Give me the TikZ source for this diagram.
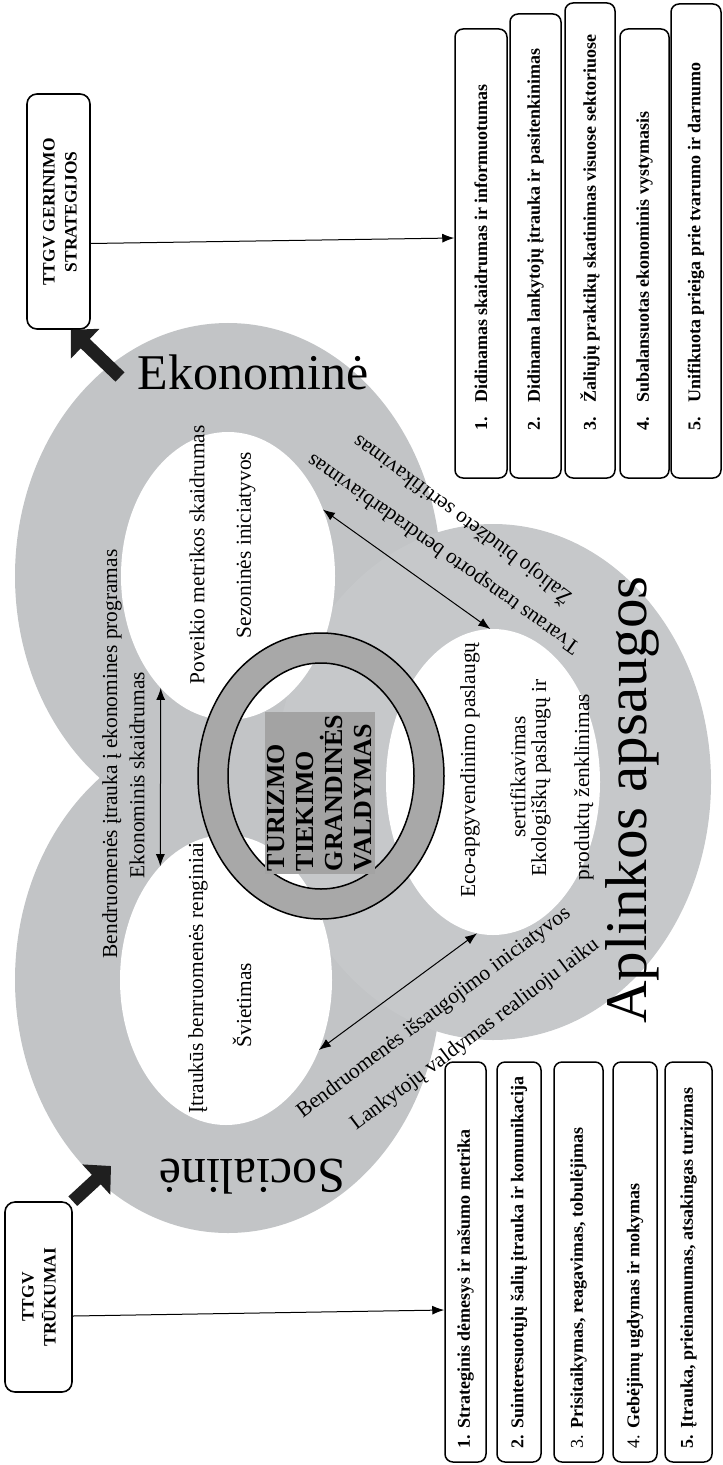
\documentclass[tikz,border=0pt]{standalone}
\usepackage{fontspec}
\setmainfont{Liberation Serif}
\usetikzlibrary{shapes.geometric, arrows.meta}

\definecolor{ringgray}{RGB}{194,196,198}
\definecolor{envgray}{RGB}{198,200,202}
\definecolor{hubgray}{RGB}{168,168,168}
\definecolor{hubfill}{RGB}{163,163,163}

\tikzset{
	outerring/.style={ellipse, inner sep=0pt, outer sep=0pt, fill=ringgray},
	innerring/.style={ellipse, inner sep=0pt, outer sep=0pt, fill=white},
	smalltxt/.style={font=\fontsize{10.7}{13}\selectfont, inner sep=0pt},
	ringtxt/.style={smalltxt, rotate=90},
	bigtxt/.style={font=\fontsize{25}{30}\selectfont, inner sep=0pt},
	titlebox/.style={draw, line width=0.8pt, rounded corners=5pt, inner sep=0pt},
	titletxt/.style={rotate=90, inner sep=0pt, font=\bfseries\fontsize{8.7}{11}\selectfont},
	listbox/.style={draw, line width=0.75pt, rounded corners=4pt, inner sep=0pt},
	listtxt/.style={font=\bfseries\fontsize{9}{11}\selectfont, rotate=90, anchor=west, inner sep=0pt},
	thinarrow/.style={-{Latex[length=6pt,width=4.5pt]}, line width=0.5pt},
	twoway/.style={{Latex[length=6pt,width=4.5pt]}-{Latex[length=6pt,width=4.5pt]}, line width=0.5pt},
	fatarrow/.style={-{Triangle[length=10pt,width=20pt]}, line width=6.5pt, black!88}
}

\begin{document}
\begin{tikzpicture}[x=0.5pt, y=-0.5pt]
	\useasboundingbox (0,0) rectangle (722,1465);
	
	% three rings
	\node[outerring, minimum width=213pt, minimum height=253pt] (econOut) at (228,576) {};
	\node[outerring, minimum width=213pt, minimum height=253pt] (socOut) at (228,980) {};
	\node[outerring, fill=envgray, minimum width=218pt, minimum height=258pt] (envOut) at (493,782) {};
	
	\node[innerring, minimum width=107pt, minimum height=144pt] (econIn) at (228,576) {};
	\node[innerring, minimum width=106pt, minimum height=145pt] (socIn) at (226,980) {};
	\node[innerring, minimum width=107pt, minimum height=153pt] (envIn) at (493,782) {};
	
	% hub
	\filldraw[fill=hubgray, line width=0.75pt, even odd rule] (321,776) ellipse [x radius=123, y radius=143] (321,776) ellipse [x radius=93, y radius=113];
	\node[fill=hubfill, rotate=90, align=left, inner sep=1.5pt, font=\bfseries\fontsize{13}{14.5}\selectfont] (hub) at (320,793) {TURIZMO\\TIEKIMO\\GRANDINĖS\\VALDYMAS};
	
	% ring labels
	\node[bigtxt] (ekoLabel) at (253,372) {Ekonominė};
	\node[bigtxt, rotate=180] (socLabel) at (252,1177) {Socialinė};
	\node[bigtxt, rotate=90, font=\fontsize{29.5}{34}\selectfont] (aplLabel) at (632,800) {Aplinkos apsaugos};
	
	\node[ringtxt] (ekoProg) at (112,754) {Bendruomenės įtrauka į ekonomines programas};
	\node[ringtxt] (ekoSkaid) at (137,775) {Ekonominis skaidrumas};
	\node[ringtxt] (poveik) at (197,555) {Poveikio metrikos skaidrumas};
	\node[ringtxt] (sezon) at (246,545) {Sezoninės iniciatyvos};
	\node[ringtxt] (renginiai) at (198,978) {Įtraukūs benruomenės renginiai};
	\node[ringtxt] (svietimas) at (242,1005) {Švietimas};
	\node[ringtxt] (ecoApg) at (470,770) {Eco-apgyvendinimo paslaugų};
	\node[ringtxt] (sertif) at (518,777) {sertifikavimas};
	\node[ringtxt] (ekolog) at (541,778) {Ekologiškų paslaugų ir};
	\node[ringtxt] (zenkl) at (584,787) {produktų ženklinimas};
	
	\node[smalltxt, rotate=144.5] (tvaraus) at (444,553) {Tvaraus transporto bendradarbiavimas};
	\node[smalltxt, rotate=143.2] (zaliojo) at (462,520) {Žaliojo biudžeto sertifikavimas};
	\node[smalltxt, rotate=37] (issaug) at (434,1013) {Bendruomenės išsaugojimo iniciatyvos};
	\node[smalltxt, rotate=37] (lankyt) at (475,1035) {Lankytojų valdymas realiuoju laiku};
	
	\draw[twoway] (econIn.239) -- (socIn.120);
	\draw[twoway] (econIn.35) -- (envIn.91);
	\draw[twoway] (socIn.323) -- (envIn.264);
	
	% title boxes
	\node[titlebox, minimum width=31.5pt, minimum height=117.5pt] (gerin) at (58.5,211.5) {};
	\node[titletxt] (gerinA) at (49,212) {TTGV GERINIMO};
	\node[titletxt] (gerinB) at (71,212) {STRATEGIJOS};
	\node[titlebox, minimum width=33.5pt, minimum height=95pt] (trukum) at (38.5,1297) {};
	\node[titletxt] (trukumA) at (28,1297) {TTGV};
	\node[titletxt] (trukumB) at (49,1297) {TRŪKUMAI};
	
	\coordinate (econTail) at (120,377);
	\coordinate (socTip) at (111,1166);
	\draw[fatarrow] (econTail) -- ([xshift=-10pt]gerin.south east);
	\draw[fatarrow] (trukum.north east) -- (socTip);
	
	% strategies
	\node[listbox, minimum width=26pt, minimum height=224.5pt] (good1) at (481,253.5) {};
	\node[listbox, minimum width=25.5pt, minimum height=232pt] (good2) at (535.5,246) {};
	\node[listbox, minimum width=25pt, minimum height=237.5pt] (good3) at (590,240.5) {};
	\node[listbox, minimum width=24.5pt, minimum height=224.5pt] (good4) at (644.5,253.5) {};
	\node[listbox, minimum width=25pt, minimum height=237pt] (good5) at (696,241) {};
	
	\node[listtxt] (good1t) at ([yshift=24pt]good1.south) {1.\hspace{7pt}Didinamas skaidrumas ir informuotumas};
	\node[listtxt] (good2t) at ([yshift=24pt]good2.south) {2.\hspace{7pt}Didinama lankytojų įtrauka ir pasitenkinimas};
	\node[listtxt] (good3t) at ([yshift=24pt]good3.south) {3.\hspace{7pt}Žaliųjų praktikų skatinimas visuose sektoriuose};
	\node[listtxt] (good4t) at ([yshift=24pt]good4.south) {4.\hspace{7pt}Subalansuotas ekonominis vystymasis};
	\node[listtxt] (good5t) at ([yshift=24pt]good5.south) {5.\hspace{7pt}Unifikuota prieiga prie tvarumo ir darnumo};
	
	% shortcomings
	\node[listbox, minimum width=20.5pt, minimum height=200pt] (bad1) at (465.5,1262) {};
	\node[listbox, minimum width=22pt, minimum height=200pt] (bad2) at (519,1262) {};
	\node[listbox, minimum width=24.5pt, minimum height=200pt] (bad3) at (578.5,1262) {};
	\node[listbox, minimum width=22pt, minimum height=200pt] (bad4) at (635,1262) {};
	\node[listbox, minimum width=23.5pt, minimum height=200pt] (bad5) at (688.5,1262) {};
	
	\node[listtxt] (bad1t) at ([yshift=7pt]bad1.south) {1. Strateginis dėmesys ir našumo metrika};
	\node[listtxt] (bad2t) at ([yshift=7pt]bad2.south) {2. Suinteresuotųjų šalių įtrauka ir komunikacija};
	\node[listtxt] (bad3t) at ([yshift=7pt]bad3.south) {{\mdseries 3.} Prisitaikymas, reagavimas, tobulėjimas};
	\node[listtxt] (bad4t) at ([yshift=7pt]bad4.south) {{\mdseries 4.} Gebėjimų ugdymas ir mokymas};
	\node[listtxt] (bad5t) at ([yshift=7pt]bad5.south) {5. Įtrauka, prieinamumas, atsakingas turizmas};
	
	\draw[thinarrow] ([yshift=-16pt]gerin.east) -- ([yshift=7.75pt]good1.west);
	\draw[thinarrow] ([yshift=-9.5pt]trukum.east) -- ([yshift=-24pt]bad1.west);
\end{tikzpicture}
\end{document}
